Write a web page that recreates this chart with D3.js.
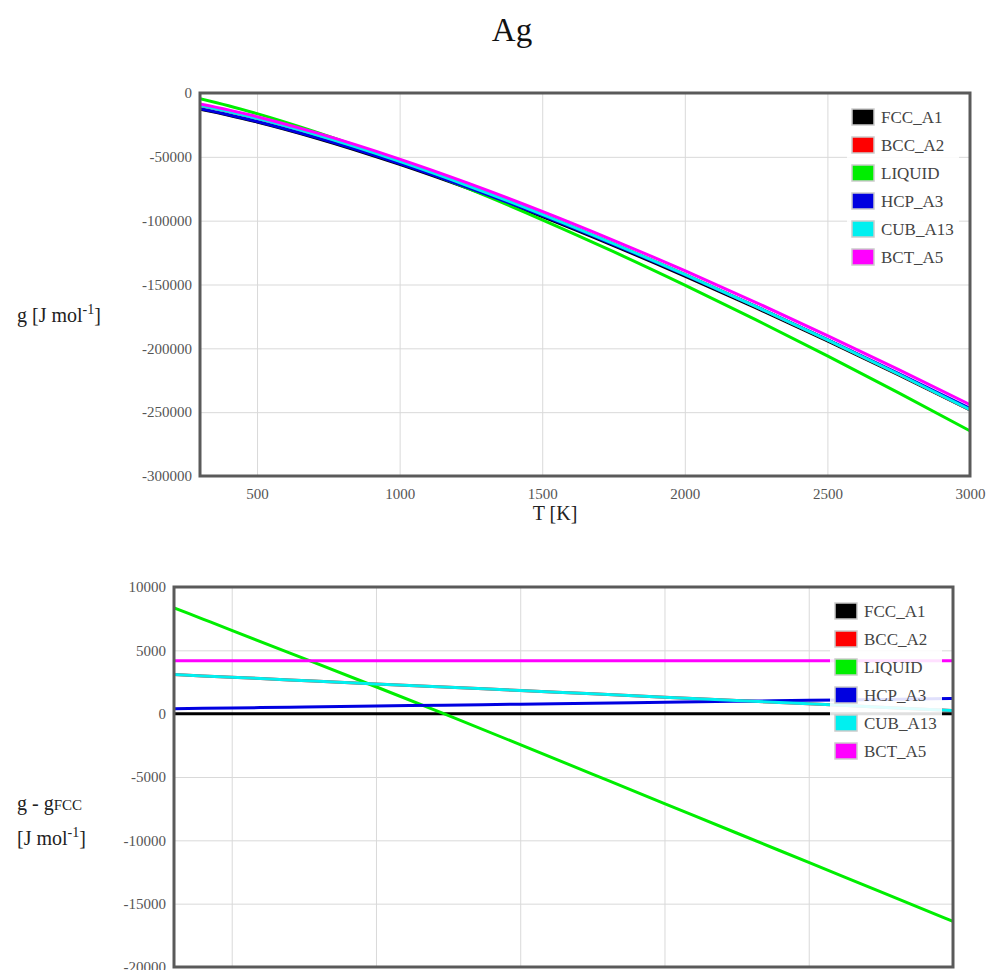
<!DOCTYPE html>
<html>
<head>
<meta charset="utf-8">
<script src="https://cdn.jsdelivr.net/npm/d3@7"></script>
<style>
  html, body { margin: 0; padding: 0; background: #fff; }
  svg { display: block; font-family: "Liberation Serif", "Times New Roman", serif; }
</style>
</head>
<body>
<svg id="chart" width="987" height="970"></svg>
<script>
// ---------- DATA ----------
const title = "Ag";
const phases = ["FCC_A1", "BCC_A2", "LIQUID", "HCP_A3", "CUB_A13", "BCT_A5"];
const phaseColors = ["#000000", "#ff0000", "#00ee00", "#0000e0", "#00f0f0", "#ff00ff"];

const temps = [300, 400, 500, 700, 1000, 1235, 1500, 1750, 2000, 2250, 2500, 2750, 3000];

// absolute Gibbs energy g [J/mol]
const gFCC = [-12765, -17420, -22729, -34853, -55934, -74370, -96872, -119538, -143397, -168305, -194146, -220824, -248264];
const gBCC = [-9680, -14440, -19854, -32188, -53584, -72267, -95047, -117975, -142097, -167267, -193371, -220311, -248014];
const gLIQ = [-4407, -9951, -16149, -30053, -53810, -74374, -99317, -124308, -150492, -177726, -205892, -234896, -264661];
const gHCP = [-12375, -17000, -22279, -34343, -55334, -73699, -96122, -118713, -142497, -167330, -193096, -219699, -247064];
const gCUB = [-9680, -14440, -19854, -32188, -53584, -72267, -95047, -117975, -142097, -167267, -193371, -220311, -248014];
const gBCT = [-8580, -13235, -18544, -30668, -51749, -70185, -92687, -115353, -139212, -164120, -189961, -216639, -244079];

// g - gFCC [J/mol]
const dFCC = [0, 0, 0, 0, 0, 0, 0, 0, 0, 0, 0, 0, 0];
const dBCC = [3085, 2980, 2875, 2665, 2350, 2103, 1825, 1563, 1300, 1038, 775, 513, 250];
const dLIQ = [8358, 7469, 6580, 4800, 2124, -4, -2445, -4770, -7095, -9421, -11746, -14072, -16397];
const dHCP = [390, 420, 450, 510, 600, 671, 750, 825, 900, 975, 1050, 1125, 1200];
const dCUB = [3085, 2980, 2875, 2665, 2350, 2103, 1825, 1563, 1300, 1038, 775, 513, 250];
const dBCT = [4185, 4185, 4185, 4185, 4185, 4185, 4185, 4185, 4185, 4185, 4185, 4185, 4185];

const xTicks = [500, 1000, 1500, 2000, 2500, 3000];
const topYTicks = [0, -50000, -100000, -150000, -200000, -250000, -300000];
const bottomYTicks = [10000, 5000, 0, -5000, -10000, -15000, -20000];

// ---------- DRAW ----------
const svg = d3.select("#chart");

svg.append("text")
  .attr("x", 512).attr("y", 41)
  .attr("text-anchor", "middle")
  .attr("font-size", 33)
  .attr("fill", "#111")
  .text(title);

function panel(opts) {
  const { left, right, top, bottom, yDomain, yTicks, series, id, xLabels } = opts;
  const x = d3.scaleLinear().domain([300, 3000]).range([left, right]);
  const y = d3.scaleLinear().domain(yDomain).range([bottom, top]);
  const g = svg.append("g");

  g.append("clipPath").attr("id", id).append("rect")
    .attr("x", left).attr("y", top).attr("width", right - left).attr("height", bottom - top);

  // grid
  g.append("g").attr("transform", `translate(0,${bottom})`)
    .call(d3.axisBottom(x).tickValues(xTicks).tickSize(-(bottom - top)).tickFormat(""))
    .call(s => s.select(".domain").remove())
    .call(s => s.selectAll("line").attr("stroke", "#d9d9d9").attr("stroke-width", 1));
  g.append("g").attr("transform", `translate(${left},0)`)
    .call(d3.axisLeft(y).tickValues(yTicks).tickSize(-(right - left)).tickFormat(""))
    .call(s => s.select(".domain").remove())
    .call(s => s.selectAll("line").attr("stroke", "#d9d9d9").attr("stroke-width", 1));

  // tick labels
  g.append("g").attr("transform", `translate(${left - 8},0)`)
    .call(d3.axisLeft(y).tickValues(yTicks).tickSize(0).tickPadding(0).tickFormat(d => String(d)))
    .call(s => s.select(".domain").remove())
    .call(s => s.selectAll("text").attr("font-family", "Liberation Serif").attr("font-size", 15).attr("fill", "#555"));
  if (xLabels) {
    g.append("g").attr("transform", `translate(0,${bottom + 12})`)
      .call(d3.axisBottom(x).tickValues(xTicks).tickSize(0).tickPadding(0).tickFormat(d => String(d)))
      .call(s => s.select(".domain").remove())
      .call(s => s.selectAll("text").attr("font-family", "Liberation Serif").attr("font-size", 15).attr("fill", "#555"));
  }

  // lines
  const line = d3.line().x(d => x(d[0])).y(d => y(d[1])).curve(d3.curveMonotoneX);
  const lg = g.append("g").attr("clip-path", `url(#${id})`);
  series.forEach((vals, i) => {
    lg.append("path")
      .datum(temps.map((t, k) => [t, vals[k]]))
      .attr("fill", "none")
      .attr("stroke", phaseColors[i])
      .attr("stroke-width", 3)
      .attr("d", line);
  });

  // legend
  const lx = right - 118, ly = top + 24, step = 28;
  const leg = g.append("g");
  leg.append("rect")
    .attr("x", lx - 5).attr("y", ly - 13)
    .attr("width", 112).attr("height", step * 6 + 2)
    .attr("fill", "#fff").attr("fill-opacity", 0.88);
  phases.forEach((p, i) => {
    leg.append("rect")
      .attr("x", lx).attr("y", ly + i * step - 8)
      .attr("width", 22).attr("height", 16)
      .attr("fill", phaseColors[i])
      .attr("stroke", "#ccc").attr("stroke-width", 1.5);
    leg.append("text")
      .attr("x", lx + 29).attr("y", ly + i * step + 6)
      .attr("font-size", 17).attr("fill", "#444")
      .text(p);
  });

  // frame
  g.append("rect")
    .attr("x", left).attr("y", top).attr("width", right - left).attr("height", bottom - top)
    .attr("fill", "none").attr("stroke", "#5a5a5a").attr("stroke-width", 3);
  return { x, y };
}

panel({ id: "clipTop", left: 200, right: 970, top: 93, bottom: 476,
  yDomain: [-300000, 0], yTicks: topYTicks, xLabels: true,
  series: [gFCC, gBCC, gLIQ, gHCP, gCUB, gBCT] });

panel({ id: "clipBot", left: 174, right: 953, top: 587, bottom: 967,
  yDomain: [-20000, 10000], yTicks: bottomYTicks, xLabels: false,
  series: [dFCC, dBCC, dLIQ, dHCP, dCUB, dBCT] });

// axis titles
svg.append("text").attr("x", 555).attr("y", 520).attr("text-anchor", "middle")
  .attr("font-size", 20).attr("fill", "#222").text("T [K]");

const yl = svg.append("text").attr("x", 17).attr("y", 322).attr("font-size", 20).attr("fill", "#222");
yl.append("tspan").text("g [J mol");
yl.append("tspan").attr("dy", -8).attr("font-size", 14).text("-1");
yl.append("tspan").attr("dy", 8).text("]");

const yl2 = svg.append("text").attr("x", 17).attr("y", 810).attr("font-size", 20).attr("fill", "#222");
yl2.append("tspan").text("g - g");
yl2.append("tspan").attr("font-size", 15).text("FCC");
const yl3 = svg.append("text").attr("x", 17).attr("y", 845).attr("font-size", 20).attr("fill", "#222");
yl3.append("tspan").text("[J mol");
yl3.append("tspan").attr("dy", -8).attr("font-size", 14).text("-1");
yl3.append("tspan").attr("dy", 8).text("]");
</script>
</body>
</html>
